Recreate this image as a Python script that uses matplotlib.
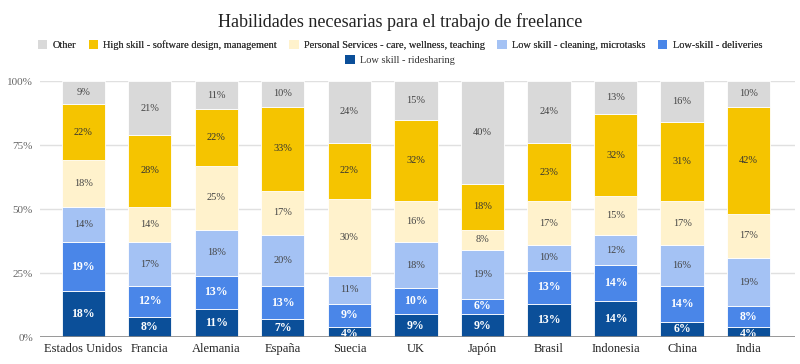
import matplotlib
matplotlib.use("Agg")
import matplotlib.pyplot as plt
import numpy as np
from matplotlib.patches import Patch

categories = ["Estados Unidos", "Francia", "Alemania", "España", "Suecia", "UK",
              "Japón", "Brasil", "Indonesia", "China", "India"]
ridesharing = [18, 8, 11, 7, 4, 9, 9, 13, 14, 6, 4]
deliveries = [19, 12, 13, 13, 9, 10, 6, 13, 14, 14, 8]
cleaning = [14, 17, 18, 20, 11, 18, 19, 10, 12, 16, 19]
personal = [18, 14, 25, 17, 30, 16, 8, 17, 15, 17, 17]
high_skill = [22, 28, 22, 33, 22, 32, 18, 23, 32, 31, 42]
other = [9, 21, 11, 10, 24, 15, 40, 24, 13, 16, 10]
yticks = [0, 25, 50, 75, 100]
ytick_labels = ["0%", "25%", "50%", "75%", "100%"]

series = [
    ("Low skill - ridesharing", ridesharing, "#0b4f99", "white", "bold"),
    ("Low-skill - deliveries", deliveries, "#4a86e8", "white", "bold"),
    ("Low skill - cleaning, microtasks", cleaning, "#a4c2f4", "#444444", "normal"),
    ("Personal Services - care, wellness, teaching", personal, "#fff2cc", "#444444", "normal"),
    ("High skill - software design, management", high_skill, "#f5c400", "#333333", "normal"),
    ("Other", other, "#d9d9d9", "#444444", "normal"),
]

plt.rcParams["font.family"] = ["Liberation Serif", "DejaVu Serif"]

fig = plt.figure(figsize=(8, 3.64), dpi=100)
ax = fig.add_axes([0.05, 0.074, 0.944, 0.703])

x = np.arange(len(categories))
bottom = np.zeros(len(categories))
w = 0.65
for name, vals, col, tcol, tw in series:
    vals = np.array(vals, dtype=float)
    ax.bar(x, vals, w, bottom=bottom, color=col, edgecolor="white", linewidth=0.6, zorder=3)
    for xi, b, v in zip(x, bottom, vals):
        yc = b + v / 2
        if v < 5:
            yc = b + v / 2 - 0.8
        ax.text(xi, yc, f"{int(v)}%", ha="center", va="center", color=tcol,
                fontsize=8.5 if tw == "bold" else 7.5, fontweight=tw, zorder=4)
    bottom += vals

ax.set_xlim(-0.65, len(categories) - 1 + 0.7)
ax.set_ylim(0, 100)
ax.set_yticks(yticks)
ax.set_yticklabels(ytick_labels, color="#666666", fontsize=8)
ax.set_xticks(x)
ax.set_xticklabels(categories, fontsize=9, color="#222222")
ax.tick_params(axis="both", length=0, pad=4)
ax.tick_params(axis="y", pad=5)
for s in ax.spines.values():
    s.set_visible(False)
ax.grid(axis="y", color="#e0e0e0", linewidth=1, zorder=0)
ax.axhline(0, color="#888888", linewidth=1.2, zorder=5)
ax.set_axisbelow(True)

fig.text(0.5, 0.94, "Habilidades necesarias para el trabajo de freelance",
         ha="center", va="center", fontsize=13, color="#222222")

order = [5, 4, 3, 2, 1]
handles1 = [Patch(facecolor=series[i][2], edgecolor="none") for i in order]
labels1 = [series[i][0] for i in order]
leg1 = fig.legend(handles1, labels1, loc="center", bbox_to_anchor=(0.5, 0.876), ncol=5,
                  frameon=False, fontsize=7.5, handlelength=0.9, handleheight=0.9,
                  handletextpad=0.5, columnspacing=1.2, borderaxespad=0)
for t in leg1.get_texts():
    t.set_color("#333333")
leg2 = fig.legend([Patch(facecolor=series[0][2], edgecolor="none")], [series[0][0]],
                  loc="center", bbox_to_anchor=(0.5, 0.835), ncol=1, frameon=False,
                  fontsize=7.5, handlelength=0.9, handleheight=0.9, handletextpad=0.5,
                  borderaxespad=0)
for t in leg2.get_texts():
    t.set_color("#333333")
fig.add_artist(leg1)

fig.savefig("out.png", dpi=100)
